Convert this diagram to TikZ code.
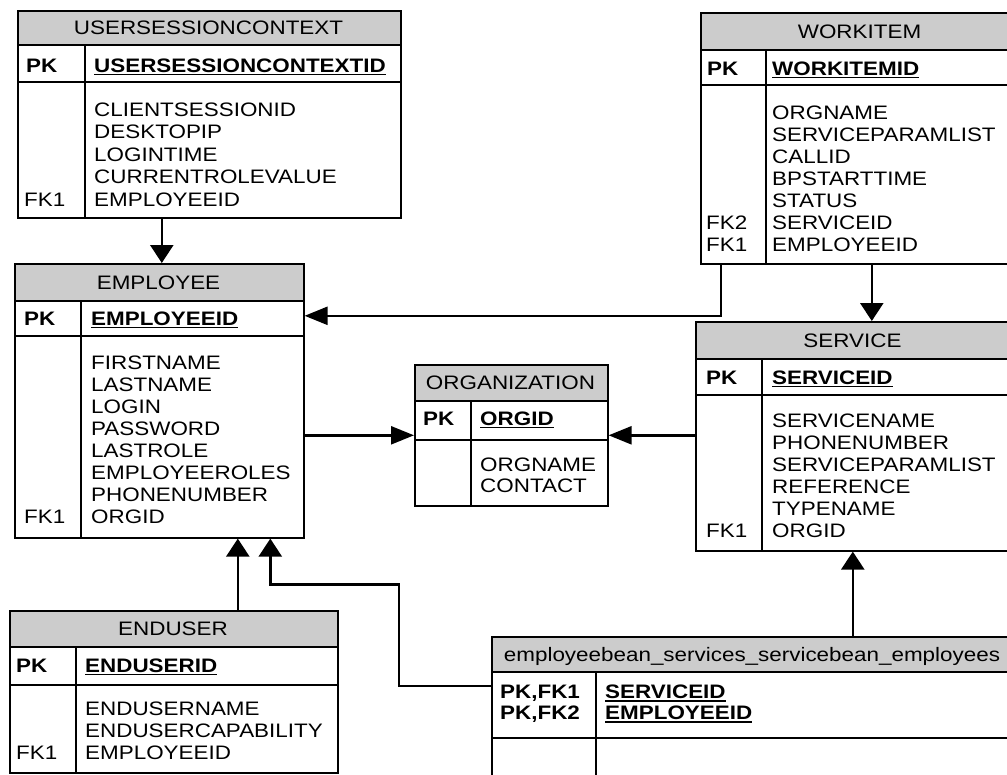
\documentclass[tikz,border=0pt]{standalone}
\usepackage{fontspec}
\setmainfont{Liberation Sans}[FakeStretch=1.15]
\usetikzlibrary{arrows.meta}
\definecolor{headgray}{HTML}{CCCCCC}

% bold key column entry with a heavy underline
\newsavebox\ulsave
\newcommand\keyfield[1]{\sbox\ulsave{\textbf{#1}}\rlap{\rule[-3.2pt]{\wd\ulsave}{1.7pt}}\usebox\ulsave}

\tikzset{
  tableframe/.style={draw=black, line width=1.6pt, inner sep=0pt, fill=none},
  tablerule/.style={draw=black, line width=1.6pt},
  headfill/.style={fill=headgray},
  titletext/.style={inner sep=0pt, text height=14pt, text depth=0pt, anchor=center},
  celltext/.style={inner sep=0pt, text height=14pt, text depth=0pt, anchor=west},
  hconn/.style={draw=black, line width=2.4pt, -{Triangle[length=23pt,width=18pt]}},
  vconn/.style={draw=black, line width=2.4pt, -{Triangle[length=18pt,width=23pt]}},
  link/.style={draw=black, line width=2.4pt},
}

% #1 name, #2 left, #3 top, #4 right, #5 header bottom,
% #6 key row bottom, #7 bottom, #8 column rule, #9 title
\newcommand\ertable[9]{%
  \fill[headfill] (#2,#3) rectangle (#4,#5);
  \node[tableframe, minimum width=#4pt-#2pt, minimum height=#7pt-#3pt,
        anchor=north west] (#1) at (#2,#3) {};
  \draw[tablerule] (#2,#5) -- (#4,#5) (#2,#6) -- (#4,#6) (#8,#5) -- (#8,#7);
  \node[titletext] (#1-title) at ({(#2+#4)/2},{(#3+#5)/2}) {#9};
}

% #1 name prefix, #2 x, #3 first line, #4 line step, #5 entries
\newcommand\fieldlist[5]{%
  \foreach \t [count=\i from 1] in {#5}
    \node[celltext] (#1-\i) at (#2,{#3+#4*(\i-1)}) {\t};
}

\begin{document}
\begin{tikzpicture}[x=1pt, y=-1pt, font=\fontsize{19.5pt}{22pt}\selectfont]
\clip (0,0) rectangle (1007,774);
\fill[white] (0,0) rectangle (1007,774);

% ---------- tables ----------
\ertable{usc}{17}{10}{400}{45}{82}{217}{85}{USERSESSIONCONTEXT}
\node[celltext] (usc-pk) at (26,65) {\textbf{PK}};
\node[celltext] (usc-id) at (94,65) {\keyfield{USERSESSIONCONTEXTID}};
\fieldlist{usc-f}{94}{109}{22.5}{CLIENTSESSIONID,DESKTOPIP,LOGINTIME,CURRENTROLEVALUE,EMPLOYEEID}
\node[celltext] (usc-fk1) at (24,199) {FK1};

\ertable{emp}{14}{263}{303}{301}{336}{537}{81}{EMPLOYEE}
\node[celltext] (emp-pk) at (24,318) {\textbf{PK}};
\node[celltext] (emp-id) at (91,318) {\keyfield{EMPLOYEEID}};
\fieldlist{emp-f}{91}{362}{22}{FIRSTNAME,LASTNAME,LOGIN,PASSWORD,LASTROLE,EMPLOYEEROLES,PHONENUMBER,ORGID}
\node[celltext] (emp-fk1) at (24,516) {FK1};

\ertable{wi}{700}{12}{1019}{50}{85}{263}{766}{WORKITEM}
\node[celltext] (wi-pk) at (707,68) {\textbf{PK}};
\node[celltext] (wi-id) at (772,68) {\keyfield{WORKITEMID}};
\fieldlist{wi-f}{772}{112.7}{21.9}{ORGNAME,SERVICEPARAMLIST,CALLID,BPSTARTTIME,STATUS,SERVICEID,EMPLOYEEID}
\node[celltext] (wi-fk2) at (706,222.2) {FK2};
\node[celltext] (wi-fk1) at (706,244.1) {FK1};

\ertable{svc}{695}{321}{1010}{359}{395}{550}{762}{SERVICE}
\node[celltext] (svc-pk) at (706,377) {\textbf{PK}};
\node[celltext] (svc-id) at (772,377) {\keyfield{SERVICEID}};
\fieldlist{svc-f}{772}{420}{22}{SERVICENAME,PHONENUMBER,SERVICEPARAMLIST,REFERENCE,TYPENAME,ORGID}
\node[celltext] (svc-fk1) at (706,530) {FK1};

\ertable{org}{414}{364}{607}{401}{440}{505}{471}{ORGANIZATION}
\node[celltext] (org-pk) at (423,418) {\textbf{PK}};
\node[celltext] (org-id) at (480,418) {\keyfield{ORGID}};
\fieldlist{org-f}{480}{464}{21}{ORGNAME,CONTACT}

\ertable{eu}{9}{610}{337}{647}{685}{772}{76}{ENDUSER}
\node[celltext] (eu-pk) at (16,665) {\textbf{PK}};
\node[celltext] (eu-id) at (85,665) {\keyfield{ENDUSERID}};
\fieldlist{eu-f}{85}{708.3}{22.2}{ENDUSERNAME,ENDUSERCAPABILITY,EMPLOYEEID}
\node[celltext] (eu-fk1) at (16,752.7) {FK1};

\ertable{jn}{491}{636}{1013}{672}{738}{800}{596}{employeebean\_services\_servicebean\_employees}
\node[celltext] (jn-k1) at (500,691.7) {\textbf{PK,FK1}};
\node[celltext] (jn-k2) at (500,712.5) {\textbf{PK,FK2}};
\node[celltext] (jn-id1) at (605,691.7) {\keyfield{SERVICEID}};
\node[celltext] (jn-id2) at (605,712.5) {\keyfield{EMPLOYEEID}};

% ---------- relationships ----------
\draw[vconn] ([xshift=-47.5pt]usc.south) -- ([xshift=2.5pt]emp.north);
\draw[hconn] ([xshift=-139.5pt]wi.south) |- ([yshift=85pt]emp.east);
\draw[vconn] ([xshift=11.5pt]wi.south) -- ([xshift=18.5pt]svc.north);
\draw[hconn] (emp.east |- org.west) -- (org.west);
\draw[hconn] (svc.west |- org.east) -- (org.east);
\draw[vconn] ([xshift=64pt]eu.north) -- ([xshift=64pt]eu.north |- emp.south);
\draw[vconn] ([yshift=33pt]jn.west) -- ++(-92,0)
  |- ([xshift=111pt,yshift=-46pt]emp.south) -- ([xshift=111pt]emp.south);
\draw[vconn] ([xshift=100pt]jn.north) -- ([xshift=100pt]jn.north |- svc.south);
\end{tikzpicture}
\end{document}
